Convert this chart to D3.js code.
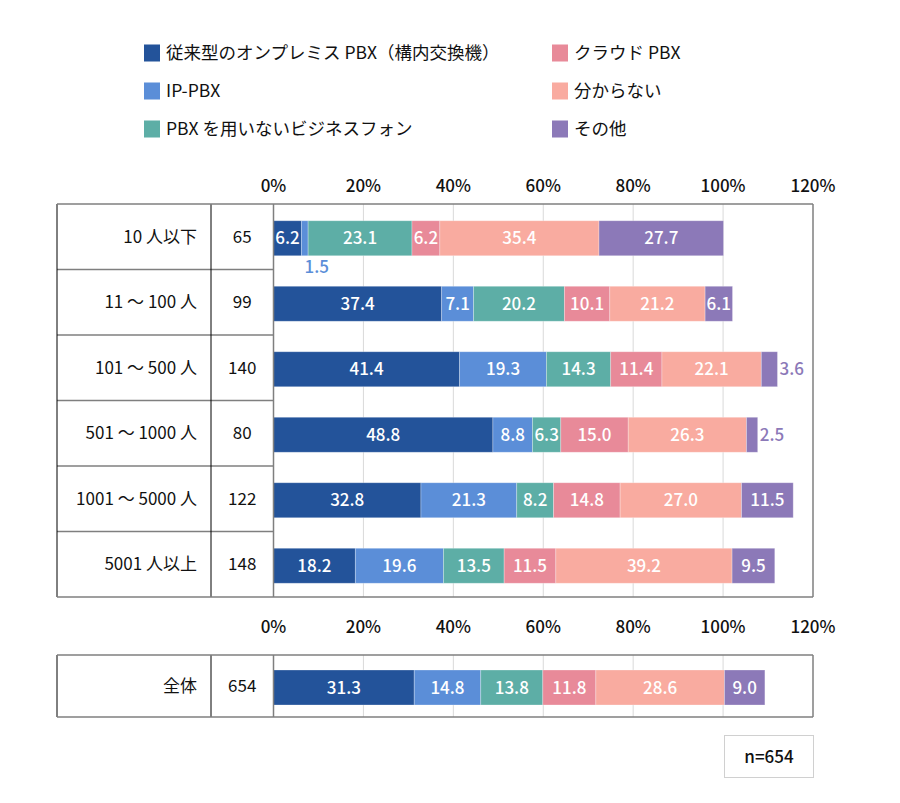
<!DOCTYPE html>
<html><head><meta charset="utf-8">
<script src="https://cdn.jsdelivr.net/npm/d3@7"></script>
<style>body{margin:0;background:#fff}svg{display:block}text{font-family:"Noto Sans CJK JP","Noto Sans",sans-serif}</style>
</head><body>
<svg id="c" width="900" height="803"></svg>
<script>
const seriesNames = ["従来型のオンプレミス PBX（構内交換機）","IP-PBX","PBX を用いないビジネスフォン","クラウド PBX","分からない","その他"];
const colors = ["#23539A","#5B8ED8","#5DAEA6","#E88A99","#F9ABA0","#8C79B8"];
const categories = ["10 人以下","11 ～ 100 人","101 ～ 500 人","501 ～ 1000 人","1001 ～ 5000 人","5001 人以上"];
const counts = [65,99,140,80,122,148];
const values = [
  [6.2,1.5,23.1,6.2,35.4,27.7],
  [37.4,7.1,20.2,10.1,21.2,6.1],
  [41.4,19.3,14.3,11.4,22.1,3.6],
  [48.8,8.8,6.3,15.0,26.3,2.5],
  [32.8,21.3,8.2,14.8,27.0,11.5],
  [18.2,19.6,13.5,11.5,39.2,9.5]
];
const totalCategory = "全体";
const totalCount = 654;
const totalValues = [31.3,14.8,13.8,11.8,28.6,9.0];
const ticks = [0,20,40,60,80,100,120];
const nLabel = "n=654";

const svg = d3.select("#c");
const x = d3.scaleLinear().domain([0,120]).range([273.5,813]);
const leftX = 57, divX = 211, barH = 35;
const FS = 17;

// Legend
const legendRow = d3.scalePoint().domain([0,1,2]).range([53,129]);
const legendCol = [144,552];
seriesNames.forEach((s,i)=>{
  const col = i<3?0:1, row = i%3;
  const g = svg.append("g").attr("transform",`translate(${legendCol[col]},${legendRow(row)})`);
  g.append("rect").attr("x",0).attr("y",-8.5).attr("width",16).attr("height",17).attr("fill",colors[i]);
  g.append("text").attr("x",22).attr("y",0).attr("dy","0.36em").attr("font-size",17.5).attr("fill","#111").text(s);
});

function panel(cats, cnts, vals, top, rowH, axisY){
  const n = cats.length;
  const bottom = top + rowH*n;
  svg.append("g").selectAll("line").data(ticks.slice(1,-1)).join("line")
    .attr("x1",d=>x(d)).attr("x2",d=>x(d)).attr("y1",top).attr("y2",bottom)
    .attr("stroke","#d9d9d9").attr("stroke-width",1);
  svg.append("g").selectAll("text").data(ticks).join("text")
    .attr("x",d=>x(d)).attr("y",axisY).attr("dy","0.36em").attr("text-anchor","middle")
    .attr("font-size",FS).attr("font-weight",500).attr("fill","#111").text(d=>d+"%");
  const y = d3.scaleBand().domain(d3.range(n)).range([top,bottom]);
  svg.append("g").selectAll("line").data(d3.range(1,n)).join("line")
    .attr("x1",leftX).attr("x2",x(0)).attr("y1",d=>y(d)).attr("y2",d=>y(d))
    .attr("stroke","#7f7f7f").attr("stroke-width",1.5);
  svg.append("line").attr("x1",divX).attr("x2",divX).attr("y1",top).attr("y2",bottom).attr("stroke","#000").attr("stroke-width",1);
  svg.append("line").attr("x1",leftX).attr("x2",leftX).attr("y1",top).attr("y2",bottom).attr("stroke","#000").attr("stroke-width",1);
  svg.append("line").attr("x1",x(120)).attr("x2",x(120)).attr("y1",top).attr("y2",bottom).attr("stroke","#7f7f7f").attr("stroke-width",1.5);
  [top,bottom].forEach(yy=>svg.append("line").attr("x1",leftX).attr("x2",x(120)).attr("y1",yy).attr("y2",yy).attr("stroke","#7f7f7f").attr("stroke-width",1.5));
  cats.forEach((c,i)=>{
    const cy = y(i)+rowH/2;
    svg.append("text").attr("x",197).attr("y",cy).attr("dy","0.36em").attr("text-anchor","end").attr("font-size",FS).attr("fill","#111").text(c);
    svg.append("text").attr("x",(divX+x(0))/2).attr("y",cy).attr("dy","0.36em").attr("text-anchor","middle").attr("font-size",FS).attr("fill","#111").text(cnts[i]);
  });
  vals.forEach((row,i)=>{
    const by = y(i)+rowH/2 - barH/2 + 1.5;
    let cum = 0;
    row.forEach((v,j)=>{
      const x0 = x(cum), x1 = x(cum+v);
      svg.append("rect").attr("x",x0).attr("y",by).attr("width",x1-x0).attr("height",barH).attr("fill",colors[j])
        .attr("stroke","#fff").attr("stroke-opacity",0.35).attr("stroke-width",0.8);
      const w = x1-x0;
      const lab = v.toFixed(1);
      if (w >= 22) {
        svg.append("text").attr("x",(x0+x1)/2).attr("y",by+barH/2).attr("dy","0.36em").attr("text-anchor","middle")
          .attr("font-size",FS).attr("font-weight",500).attr("fill","#fff").text(lab);
      } else if (j === row.length-1) {
        svg.append("text").attr("x",x1+2).attr("y",by+barH/2).attr("dy","0.36em").attr("text-anchor","start")
          .attr("font-size",FS).attr("font-weight",500).attr("fill",colors[j]).text(lab);
      } else {
        svg.append("text").attr("x",(x0+x1)/2+12).attr("y",by+barH+11).attr("dy","0.36em").attr("text-anchor","middle")
          .attr("font-size",FS).attr("font-weight",500).attr("fill",colors[j]).text(lab);
      }
      cum += v;
    });
  });
  svg.append("line").attr("x1",x(0)).attr("x2",x(0)).attr("y1",top).attr("y2",bottom).attr("stroke","#7f7f7f").attr("stroke-width",1.5);
}

panel(categories, counts, values, 204, 65.5, 186);
panel([totalCategory],[totalCount],[totalValues], 655, 62, 627);

svg.append("rect").attr("x",724.5).attr("y",735.5).attr("width",89).attr("height",42).attr("fill","#fff").attr("stroke","#d0d0d0");
svg.append("text").attr("x",769).attr("y",756.5).attr("dy","0.36em").attr("text-anchor","middle").attr("font-size",FS).attr("font-weight",500).attr("fill","#111").text(nLabel);
</script>
</body></html>
